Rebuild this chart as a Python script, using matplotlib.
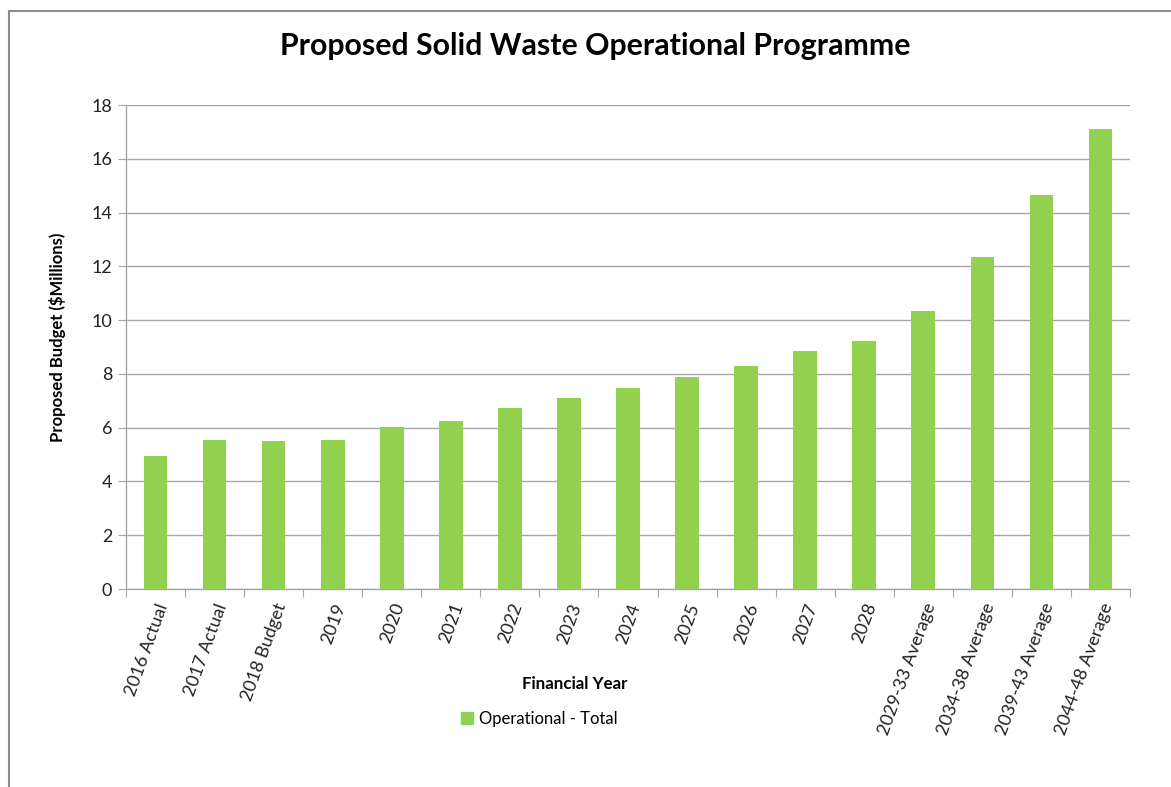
import numpy as np
import matplotlib.pyplot as plt
from matplotlib.lines import Line2D

plt.rcParams['font.family'] = ['Lato', 'DejaVu Sans']

# budget per financial year, $ millions
years = ['2016 Actual', '2017 Actual', '2018 Budget', '2019', '2020', '2021',
         '2022', '2023', '2024', '2025', '2026', '2027', '2028',
         '2029-33 Average', '2034-38 Average', '2039-43 Average', '2044-48 Average']
operational_total = [4.95, 5.55, 5.5, 5.55, 6.02, 6.25, 6.73, 7.1, 7.47, 7.88,
                     8.3, 8.85, 9.23, 10.35, 12.33, 14.65, 17.1]
y_ticks = [0, 2, 4, 6, 8, 10, 12, 14, 16, 18]

green = '#92D050'
grid_col = '#A6A6A6'
text_col = '#222222'

fig = plt.figure(figsize=(11.71, 7.87), dpi=100)
ax = fig.add_axes([126 / 1171, 1 - 589 / 787, (1130 - 126) / 1171, (589 - 105) / 787])

x = np.arange(len(years))
ax.bar(x, operational_total, width=0.4, color=green, zorder=3)

ax.set_xlim(-0.5, len(years) - 0.5)
ax.set_ylim(0, 18)
ax.set_yticks(y_ticks)
ax.set_yticklabels([str(t) for t in y_ticks], fontsize=13, color=text_col)
ax.yaxis.grid(True, color=grid_col, linewidth=1, zorder=0)
ax.tick_params(axis='y', length=6, color=grid_col, pad=4)

# category ticks sit on the boundaries, labels under the bar centres
ax.set_xticks(np.arange(len(years) + 1) - 0.5)
ax.set_xticklabels([])
ax.tick_params(axis='x', length=6, color=grid_col, direction='out')
for i, name in enumerate(years):
    ax.text(i + 0.13, -0.55, name, rotation=70, rotation_mode='anchor',
            ha='right', va='center', fontsize=13, color=text_col)

for side in ['top', 'right']:
    ax.spines[side].set_visible(False)
ax.spines['left'].set_color(grid_col)
ax.spines['bottom'].set_color(grid_col)
ax.spines['left'].set_linewidth(1)
ax.spines['bottom'].set_linewidth(1)

fig.text(595 / 1171, 1 - 46 / 787, 'Proposed Solid Waste Operational Programme',
         ha='center', va='center', fontsize=21.8, fontweight='bold')
fig.text(575 / 1171, 1 - 684 / 787, 'Financial Year',
         ha='center', va='center', fontsize=12.2, fontweight='bold')
fig.text(58 / 1171, 1 - 337 / 787, 'Proposed Budget ($Millions)',
         ha='center', va='center', rotation=90, fontsize=12, fontweight='bold')

handle = Line2D([], [], marker='s', linestyle='none', markersize=9,
                markerfacecolor=green, markeredgecolor=green)
fig.legend([handle], ['Operational - Total'], loc='center',
           bbox_to_anchor=(538 / 1171, 1 - 719 / 787), frameon=False,
           fontsize=12, handletextpad=0.2, handlelength=1.0)

# chart area border
fig.add_artist(Line2D([8.5 / 1171, 8.5 / 1171], [0, 1 - 10.5 / 787],
                      transform=fig.transFigure, color='#8C8C8C', linewidth=1.5))
fig.add_artist(Line2D([8.5 / 1171, 1], [1 - 10.5 / 787, 1 - 10.5 / 787],
                      transform=fig.transFigure, color='#8C8C8C', linewidth=1.5))

fig.savefig('out.png', dpi=100)
